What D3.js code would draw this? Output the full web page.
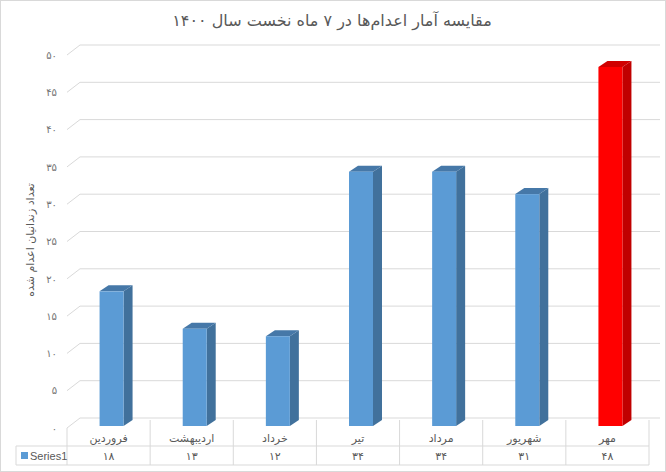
<!DOCTYPE html>
<html>
<head>
<meta charset="utf-8">
<script src="https://cdn.jsdelivr.net/npm/d3@7"></script>
<style>
  body { margin: 0; background: #fff; }
  text { font-family: "DejaVu Sans", sans-serif; fill: #595959; }
</style>
</head>
<body>
<div id="chart"></div>
<script>
// Data
var months = ["فروردین", "اردیبهشت", "خرداد", "تیر", "مرداد", "شهریور", "مهر"],
  values = [18, 13, 12, 34, 34, 31, 48],
  highlight = ["مهر"],
  yTicks = [0, 5, 10, 15, 20, 25, 30, 35, 40, 45, 50];

var title = "مقایسه آمار اعدام‌ها در ۷ ماه نخست سال ۱۴۰۰",
  yTitle = "تعداد زندانیان اعدام شده",
  seriesName = "Series1";

// Placement
var width = 666,
  height = 472,
  plotLeft = 67,
  plotRight = 649,
  depthX = 9,
  depthY = -6,
  wallX = 13,
  wallY = -10,
  tableTop = 420,
  rowMid = 446,
  tableBottom = 465,
  legendLeft = 16;

function fa(n) {
  return String(n).replace(/\d/g, function(d) { return "۰۱۲۳۴۵۶۷۸۹"[+d]; });
}

var x = d3.scaleBand().domain(months).range([plotLeft, plotRight]);
var yAxisScale = d3.scaleLinear().domain([0, 50]).range([428, 55]);
var yBar = d3.scaleLinear().domain([0, 50]).range([426, 52]);

var svg = d3.select("#chart").append("svg")
  .attr("width", width)
  .attr("height", height);

svg.append("rect")
  .attr("x", 0.5).attr("y", 0.5)
  .attr("width", width - 1).attr("height", height - 1)
  .attr("fill", "#fff")
  .attr("stroke", "#D9D9D9");

// title
svg.append("text")
  .attr("x", 332)
  .attr("y", 26)
  .attr("text-anchor", "middle")
  .attr("direction", "rtl")
  .style("font-size", "16px")
  .text(title);

// gridlines (side wall diagonal + back wall)
var grid = svg.append("g");
grid.selectAll("path")
  .data(yTicks)
  .enter().append("path")
  .attr("d", function(d) {
    var y0 = yAxisScale(d);
    return "M" + plotLeft + "," + y0 + "L" + (plotLeft + wallX) + "," + (y0 + wallY) + "H" + 660;
  })
  .attr("fill", "none")
  .attr("stroke", "#D9D9D9")
  .attr("stroke-width", 1);

// y axis labels
var axis = d3.axisLeft(yAxisScale)
  .tickValues(yTicks)
  .tickSize(0)
  .tickPadding(0)
  .tickFormat(fa);
svg.append("g")
  .attr("transform", "translate(57,0)")
  .call(axis)
  .call(function(g) { g.select(".domain").remove(); })
  .selectAll("text")
  .style("font-family", "DejaVu Sans, sans-serif")
  .style("font-size", "10px")
  .style("fill", "#737373");

svg.append("text")
  .attr("transform", "translate(34,240)rotate(-90)")
  .attr("text-anchor", "middle")
  .style("font-size", "11px")
  .text(yTitle);

// bars
var bars = svg.append("g").selectAll("g")
  .data(months.map(function(m, i) { return {month: m, value: values[i]}; }))
  .enter().append("g");

function isHi(d) { return highlight.indexOf(d.month) >= 0; }
var bw = 24;
function bx(d) { return x(d.month) + x.bandwidth() / 2 - 9; }

// side
bars.append("path")
  .attr("d", function(d) {
    var x1 = bx(d) + bw, yt = yBar(d.value), yb = yBar(0);
    return "M" + x1 + "," + yt + "L" + (x1 + depthX) + "," + (yt + depthY) +
      "L" + (x1 + depthX) + "," + (yb + depthY) + "L" + x1 + "," + yb + "Z";
  })
  .attr("fill", function(d) { return isHi(d) ? "#C00000" : "#41719C"; });

// top
bars.append("path")
  .attr("d", function(d) {
    var x0 = bx(d), yt = yBar(d.value);
    return "M" + x0 + "," + yt + "L" + (x0 + depthX) + "," + (yt + depthY) +
      "L" + (x0 + bw + depthX) + "," + (yt + depthY) + "L" + (x0 + bw) + "," + yt + "Z";
  })
  .attr("fill", function(d) { return isHi(d) ? "#D00000" : "#4678A8"; });

// front
bars.append("rect")
  .attr("x", bx)
  .attr("y", function(d) { return yBar(d.value); })
  .attr("width", bw)
  .attr("height", function(d) { return yBar(0) - yBar(d.value); })
  .attr("fill", function(d) { return isHi(d) ? "#FF0000" : "#5B9BD5"; });

// data table
var table = svg.append("g")
  .attr("stroke", "#D9D9D9")
  .attr("stroke-width", 1)
  .attr("fill", "none");

table.selectAll(".col")
  .data(months.concat(["end"]))
  .enter().append("line")
  .attr("x1", function(d, i) { return plotLeft + i * x.bandwidth(); })
  .attr("x2", function(d, i) { return plotLeft + i * x.bandwidth(); })
  .attr("y1", function(d, i) { return i === 0 ? 428 : tableTop; })
  .attr("y2", tableBottom);

table.append("line")
  .attr("x1", legendLeft).attr("x2", plotRight)
  .attr("y1", rowMid).attr("y2", rowMid);
table.append("line")
  .attr("x1", legendLeft).attr("x2", plotRight)
  .attr("y1", tableBottom).attr("y2", tableBottom);
table.append("line")
  .attr("x1", legendLeft).attr("x2", legendLeft)
  .attr("y1", rowMid).attr("y2", tableBottom);

svg.append("g").selectAll("text")
  .data(months)
  .enter().append("text")
  .attr("x", function(d) { return x(d) + x.bandwidth() / 2; })
  .attr("y", 442)
  .attr("text-anchor", "middle")
  .style("font-size", "11px")
  .text(function(d) { return d; });

svg.append("g").selectAll("text")
  .data(values)
  .enter().append("text")
  .attr("x", function(d, i) { return x(months[i]) + x.bandwidth() / 2; })
  .attr("y", 460)
  .attr("text-anchor", "middle")
  .style("font-size", "11px")
  .text(fa);

svg.append("rect")
  .attr("x", 21).attr("y", 452)
  .attr("width", 7).attr("height", 7)
  .attr("fill", "#5B9BD5");
svg.append("text")
  .attr("x", 30)
  .attr("y", 460)
  .style("font-family", "Liberation Sans, sans-serif")
  .style("font-size", "11px")
  .text(seriesName);
</script>
</body>
</html>
